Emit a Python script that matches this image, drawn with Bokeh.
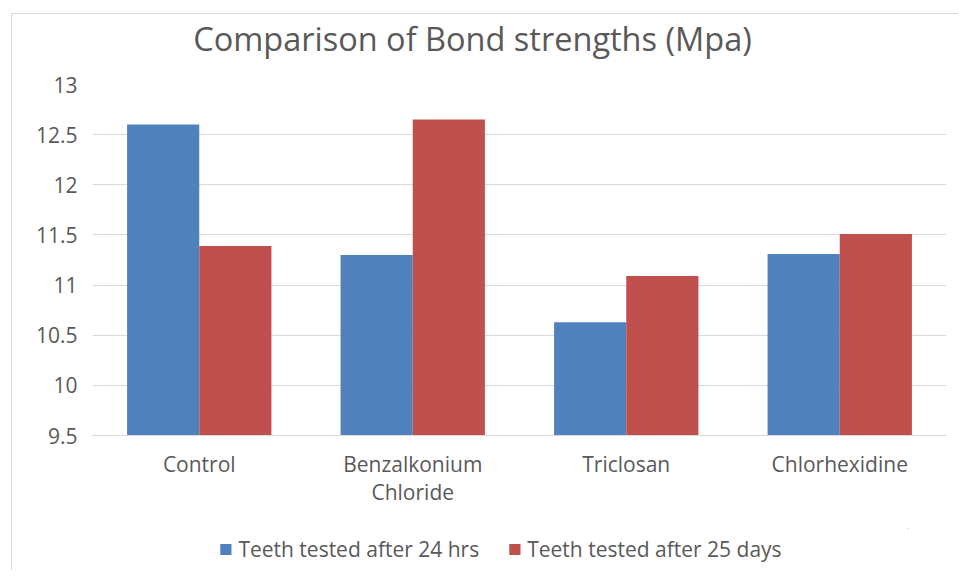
from bokeh.plotting import figure
from bokeh.models import FactorRange, FixedTicker, Legend, LegendItem, ColumnDataSource, Label, Range1d
from bokeh.layouts import column
from bokeh.transform import dodge
from bokeh.embed import file_html
from bokeh.resources import INLINE

title_text = "Comparison of Bond strengths (Mpa)"
categories = ["Control", "Benzalkonium\nChloride", "Triclosan", "Chlorhexidine"]
series_names = ["Teeth tested after 24 hrs", "Teeth tested after 25 days"]
after_24_hrs = [12.60, 11.30, 10.63, 11.31]
after_25_days = [11.39, 12.65, 11.09, 11.51]
y_ticks = [9.5, 10, 10.5, 11, 11.5, 12, 12.5, 13]
y_min, y_max = 9.5, 13

BLUE = "#4F81BD"
RED = "#C0504D"
TEXT = "#595959"
GRID = "#D9D9D9"
FONT = "Open Sans"
W = 947

# ---- title strip ----
p0 = figure(width=W, height=58, x_range=Range1d(0, W), y_range=Range1d(0, 58),
            x_axis_location=None, y_axis_location=None, min_border=0,
            output_backend="svg", toolbar_location=None)
p0.margin = (13, 0, 0, 11)
p0.styles = {"border-top": "1px solid #D9D9D9", "border-left": "1px solid #D9D9D9"}
p0.grid.visible = False
p0.outline_line_color = None
p0.add_layout(Label(x=441, y=34, text=title_text, text_align="center", text_baseline="middle",
                    text_font=FONT, text_font_size="32.5px", text_color=TEXT))

# ---- main chart ----
src = ColumnDataSource(dict(cat=categories, a=after_24_hrs, b=after_25_days))

p = figure(x_range=FactorRange(*categories), y_range=(y_min, y_max),
           frame_width=853, frame_height=351, output_backend="svg", toolbar_location=None,
           min_border_left=80, min_border_right=14, min_border_top=13, min_border_bottom=72)
p.margin = (0, 0, 0, 11)
p.styles = {"border-left": "1px solid #D9D9D9"}
p.outline_line_color = None
p.background_fill_color = "white"
p.border_fill_color = "white"

bw = 0.338
p.vbar(x=dodge("cat", -bw / 2, range=p.x_range), top="a", bottom=y_min, width=bw,
       source=src, fill_color=BLUE, line_color=None)
p.vbar(x=dodge("cat", bw / 2, range=p.x_range), top="b", bottom=y_min, width=bw,
       source=src, fill_color=RED, line_color=None)

p.xgrid.grid_line_color = None
p.ygrid.grid_line_color = GRID
p.ygrid.grid_line_width = 1
p.ygrid.level = "underlay"

p.yaxis.ticker = FixedTicker(ticks=y_ticks)
p.yaxis.major_label_overrides = {t: f"{t:g}" for t in y_ticks}
p.yaxis.axis_line_color = None
p.yaxis.major_tick_line_color = None
p.yaxis.minor_tick_line_color = None
p.yaxis.major_label_standoff = 9
p.yaxis.major_label_text_font = FONT
p.yaxis.major_label_text_font_size = "21px"
p.yaxis.major_label_text_color = TEXT

p.xaxis.axis_line_color = GRID
p.xaxis.major_tick_line_color = None
p.xaxis.minor_tick_line_color = None
p.xaxis.major_label_standoff = 8
p.xaxis.major_label_text_font = FONT
p.xaxis.major_label_text_font_size = "21px"
p.xaxis.major_label_text_line_height = 1.0
p.xaxis.major_label_text_color = TEXT
p.x_range.range_padding = 0
p.x_range.group_padding = 0

# ---- legend strip (series drawn out of view only to key the legend) ----
p2 = figure(width=W, height=62, x_range=Range1d(0, 1), y_range=Range1d(0, 1),
            x_axis_location=None, y_axis_location=None,
            min_border_left=35, min_border_right=51, min_border_top=20, min_border_bottom=0,
            output_backend="svg", toolbar_location=None)
p2.margin = (0, 0, 0, 11)
p2.styles = {"border-left": "1px solid #D9D9D9"}
p2.grid.visible = False
p2.outline_line_color = None
d1 = p2.vbar(x="a", top="a", bottom=y_min, width=0.1, source=src, fill_color=BLUE, line_color=None)
d2 = p2.vbar(x="b", top="b", bottom=y_min, width=0.1, source=src, fill_color=RED, line_color=None)
legend = Legend(items=[LegendItem(label=series_names[0], renderers=[d1]),
                       LegendItem(label=series_names[1], renderers=[d2])],
                location="center", orientation="horizontal",
                glyph_width=14, glyph_height=14, label_standoff=6, spacing=28,
                padding=0, margin=0, border_line_color=None, background_fill_alpha=0,
                label_text_font=FONT, label_text_font_size="21px", label_text_color=TEXT)
p2.add_layout(legend, "center")

layout = column(p0, p, p2, spacing=0)
open("out.html", "w").write(file_html(layout, INLINE))
